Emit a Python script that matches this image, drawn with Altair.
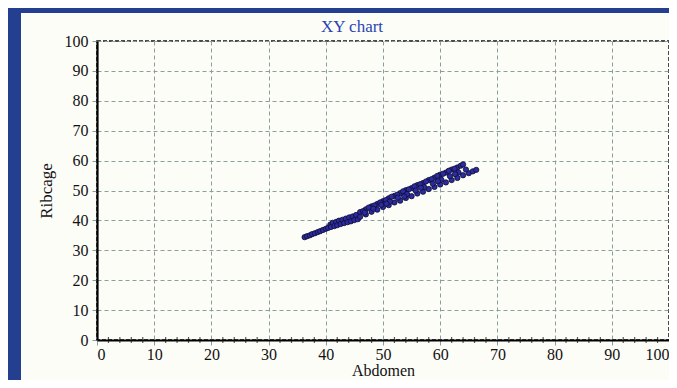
import altair as alt
import pandas as pd

# Data (Abdomen vs Ribcage)
abdomen = [
    36.3, 36.7, 37.2, 37.6, 38.1, 38.6, 39.0, 39.5, 40.0, 40.4,
    40.8, 40.9, 41.2, 41.5, 41.8, 42.0, 42.3, 42.6, 42.9, 43.2, 43.5, 43.8, 44.1, 44.4, 44.7, 45.0, 45.3, 45.6,
    46.0, 47.0, 48.0, 49.0, 50.0, 51.0, 52.0, 53.0, 54.0, 55.0, 56.0, 57.0, 58.0, 59.0, 60.0, 61.0, 62.0, 63.0, 63.6, 64.0,
    46.5, 47.5, 48.5, 49.5, 50.5, 51.5, 52.5, 53.5, 54.5, 55.5, 56.5, 57.5, 58.5, 59.5, 60.5, 61.5, 62.5,
    46.0, 47.0, 48.0, 49.0, 50.0, 51.0, 52.0, 53.0, 54.0, 55.0, 56.0, 57.0, 58.0, 59.0, 60.0, 61.0, 62.0, 63.0, 64.0, 65.0, 65.7, 66.3,
    46.8, 48.3, 49.7, 51.2, 52.6, 54.2, 55.7, 57.2, 58.7, 60.2, 61.7, 63.2, 64.5, 50.6, 53.7, 56.6, 59.6, 62.6,
]
ribcage = [
    34.4, 34.7, 35.0, 35.4, 35.7, 36.1, 36.4, 36.8, 37.2, 37.5,
    38.6, 37.8, 39.2, 38.1, 39.5, 38.4, 39.9, 38.8, 40.2, 39.1, 40.6, 39.4, 41.0, 39.7, 41.3, 40.1, 41.8, 40.4,
    42.8, 43.7, 44.7, 45.5, 46.4, 47.4, 48.2, 49.1, 50.1, 50.8, 51.8, 52.5, 53.5, 54.3, 55.3, 56.0, 57.0, 57.7, 58.3, 58.7,
    43.1, 44.3, 45.0, 46.0, 46.8, 47.9, 48.6, 49.7, 50.4, 51.4, 52.1, 53.0, 53.8, 54.9, 55.6, 56.6, 57.3,
    41.2, 42.0, 42.9, 43.6, 44.5, 45.1, 46.0, 46.6, 47.5, 48.1, 49.0, 49.6, 50.5, 51.2, 52.0, 52.7, 53.5, 54.2, 55.1, 55.8, 56.4, 56.9,
    42.6, 43.9, 45.2, 46.3, 47.6, 48.8, 50.0, 51.1, 52.3, 53.6, 54.8, 56.0, 57.0, 45.6, 48.0, 50.9, 53.1, 55.5,
]
tick_values = [0, 10, 20, 30, 40, 50, 60, 70, 80, 90, 100]
minor_ticks = [2, 4, 6, 8, 12, 14, 16, 18, 22, 24, 26, 28, 32, 34, 36, 38, 42, 44, 46, 48,
               52, 54, 56, 58, 62, 64, 66, 68, 72, 74, 76, 78, 82, 84, 86, 88, 92, 94, 96, 98]

df = pd.DataFrame({"Abdomen": abdomen, "Ribcage": ribcage})
df_minor = pd.DataFrame({"Abdomen": minor_ticks})

BLUE = "#243f8f"
PANEL = "#fdfdf8"
GRID = "#8a9e9e"
FONT = "Liberation Serif"
PLOT_H = 299

x_scale = alt.Scale(domain=[0, 100], nice=False)
y_scale = alt.Scale(domain=[0, 100], nice=False)

# decorative blue frame strips (outside the plot area)
frame_left = alt.Chart(alt.Data(values=[{}])).mark_rect(color=BLUE).encode(
    x=alt.value(-89), x2=alt.value(-76), y=alt.value(-33), y2=alt.value(345)
)
frame_top = alt.Chart(alt.Data(values=[{}])).mark_rect(color=BLUE).encode(
    x=alt.value(-89), x2=alt.value(600), y=alt.value(-33), y2=alt.value(-28)
)

minor = alt.Chart(df_minor).mark_tick(
    orient="vertical", size=6, thickness=1.2, color="#111111"
).encode(
    x=alt.X("Abdomen:Q", scale=x_scale),
    y=alt.value(PLOT_H),
)

points = alt.Chart(df).mark_circle(
    size=28, opacity=1, color="#2c2ca0", stroke="#0d0d30", strokeWidth=0.8
).encode(
    x=alt.X("Abdomen:Q", scale=x_scale,
            axis=alt.Axis(values=tick_values, title="Abdomen", titlePadding=0, labelPadding=1)),
    y=alt.Y("Ribcage:Q", scale=y_scale,
            axis=alt.Axis(values=tick_values, title="Ribcage", titlePadding=9, labelPadding=4,
                          titleFontSize=17)),
)

chart = alt.layer(frame_left, frame_top, minor, points).properties(
    width=572,
    height=PLOT_H,
    autosize="none",
    padding={"left": 89, "top": 33, "right": 0, "bottom": 40},
    background=PANEL,
    title=alt.TitleParams("XY chart", font=FONT, fontSize=17, fontWeight="normal",
                          color="#2b43b0", anchor="middle", dx=-31, offset=0, dy=28),
).configure_view(
    stroke="#111111", strokeDash=[4, 2], strokeWidth=1.5, fill=PANEL
).configure_axis(
    labelFont=FONT, labelFontSize=16, labelColor="#111111",
    titleFont=FONT, titleFontSize=16, titleFontWeight="normal", titleColor="#111111",
    domainColor="#000000", domainWidth=2.2,
    tickColor=GRID, tickSize=5, tickWidth=1,
    gridColor=GRID, gridDash=[4, 3], gridWidth=1, gridOpacity=1,
)

chart.save("out.html", embed_options={"renderer": "svg", "actions": False})
